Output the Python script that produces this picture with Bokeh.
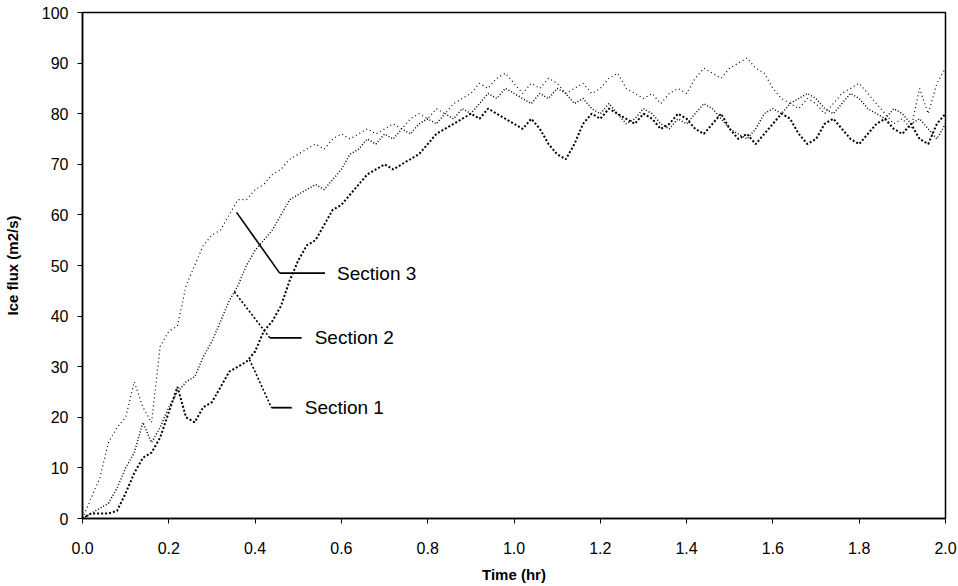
from bokeh.plotting import figure
from bokeh.models import ColumnDataSource, FixedTicker, Range1d
from bokeh.core.properties import value
from bokeh.embed import file_html
from bokeh.resources import INLINE

# ---- data ----
time_hr = [round(i * 0.02, 2) for i in range(101)]

section3 = [0, 4, 8, 15, 18, 20, 27, 22, 19, 34,
            37, 38, 46, 50, 54, 56, 57, 60, 63, 63,
            65, 66, 68, 69, 71, 72, 73, 74, 73, 75,
            76, 75, 76, 77, 76, 77, 78, 77, 79, 80,
            79, 81, 80, 82, 83, 84, 86, 85, 87, 88,
            86, 84, 86, 85, 87, 86, 84, 85, 86, 84,
            85, 87, 88, 85, 84, 83, 84, 82, 84, 85,
            84, 87, 89, 88, 87, 89, 90, 91, 89, 88,
            85, 83, 82, 81, 83, 82, 80, 82, 84, 85,
            86, 84, 82, 80, 78, 79, 77, 85, 80, 86, 89]

section2 = [0, 1, 2, 3, 6, 10, 13, 19, 15, 18,
            22, 25, 27, 28, 32, 35, 39, 43, 46, 50,
            53, 55, 57, 60, 63, 64, 65, 66, 65, 67,
            69, 72, 73, 75, 74, 76, 75, 77, 76, 78,
            79, 78, 80, 79, 81, 80, 82, 84, 83, 85,
            84, 83, 82, 84, 83, 85, 84, 82, 83, 81,
            80, 82, 80, 78, 79, 81, 80, 78, 77, 79,
            78, 80, 82, 81, 79, 77, 76, 75, 77, 80,
            81, 80, 82, 83, 84, 83, 81, 80, 82, 84,
            83, 81, 80, 79, 81, 80, 78, 79, 77, 75, 78]

section1 = [0, 1, 1, 1, 1.5, 5, 9, 12, 13, 16,
            21, 26, 20, 19, 22, 23, 26, 29, 30, 31,
            33, 37, 39, 42, 47, 51, 54, 55, 58, 61,
            62, 64, 66, 68, 69, 70, 69, 70, 71, 72,
            74, 76, 77, 78, 79, 80, 79, 81, 80, 79,
            78, 77, 79, 77, 74, 72, 71, 74, 78, 80,
            79, 81, 80, 79, 78, 80, 79, 77, 78, 80,
            79, 77, 76, 78, 80, 77, 75, 76, 74, 76,
            78, 80, 79, 76, 74, 75, 78, 79, 77, 75,
            74, 76, 78, 79, 77, 76, 78, 75, 74, 78, 80]

x_ticks = [0.0, 0.2, 0.4, 0.6, 0.8, 1.0, 1.2, 1.4, 1.6, 1.8, 2.0]
x_tick_labels = ["0.0", "0.2", "0.4", "0.6", "0.8", "1.0", "1.2", "1.4", "1.6", "1.8", "2.0"]
y_ticks = [0, 10, 20, 30, 40, 50, 60, 70, 80, 90, 100]

series_names = ["Section 1", "Section 2", "Section 3"]

# annotation leaders (start point, elbow, end of horizontal, text anchor)
leader_start = [(0.387, 31.4), (0.352, 44.8), (0.357, 60.5)]
leader_elbow = [(0.438, 21.9), (0.434, 35.7), (0.457, 48.5)]
leader_end_x = [0.485, 0.508, 0.562]
label_x = [0.515, 0.538, 0.590]

FONT = "Liberation Sans"

p = figure(width=958, height=586, output_backend="svg", toolbar_location=None,
           x_range=Range1d(0, 2.0), y_range=Range1d(0, 100),
           min_border_left=82, min_border_right=13, min_border_top=12,
           min_border_bottom=68)
p.background_fill_color = "white"
p.border_fill_color = "white"
p.outline_line_color = "black"
p.outline_line_width = 1.5
p.xgrid.visible = False
p.ygrid.visible = False

src = ColumnDataSource(dict(t=time_hr, s1=section1, s2=section2, s3=section3))
p.line("t", "s3", source=src, line_color="black", line_width=1.2, line_dash="1 3")
p.line("t", "s2", source=src, line_color="black", line_width=1.5, line_dash="1 2")
p.line("t", "s1", source=src, line_color="black", line_width=2.0, line_dash="2 2")

dashes = ["2 2", "2 2", "solid"]
for i in range(3):
    (x0, y0), (x1, y1) = leader_start[i], leader_elbow[i]
    p.line([x0, x1], [y0, y1], line_color="black", line_width=1.6, line_dash=dashes[i])
    p.line([x1, leader_end_x[i]], [y1, y1], line_color="black", line_width=1.8)

p.text(x=label_x, y=[e[1] for e in leader_elbow], text=series_names,
       text_font=value(FONT), text_font_size="19px", text_color="black",
       text_baseline="middle", text_align="left")

# axes
for ax in (p.xaxis[0], p.yaxis[0]):
    ax.axis_line_color = "black"
    ax.axis_line_width = 1.5
    ax.major_tick_line_color = "black"
    ax.major_tick_in = 0
    ax.major_tick_out = 5
    ax.minor_tick_line_color = None
    ax.major_label_text_font = FONT
    ax.major_label_text_font_size = "16px"
    ax.major_label_text_color = "black"
    ax.axis_label_text_font = FONT
    ax.axis_label_text_font_style = "bold"
    ax.axis_label_text_font_size = "15px"
    ax.axis_label_text_color = "black"

p.xaxis.ticker = FixedTicker(ticks=x_ticks)
p.xaxis.major_label_overrides = {t: lab for t, lab in zip(x_ticks, x_tick_labels)}
p.yaxis.ticker = FixedTicker(ticks=y_ticks)
p.xaxis.axis_label = "Time (hr)"
p.yaxis.axis_label = "Ice flux (m2/s)"
p.xaxis.major_label_standoff = 18
p.yaxis.major_label_standoff = 9
p.xaxis.axis_label_standoff = 9
p.yaxis.axis_label_standoff = 18

open("out.html", "w").write(file_html(p, INLINE))
